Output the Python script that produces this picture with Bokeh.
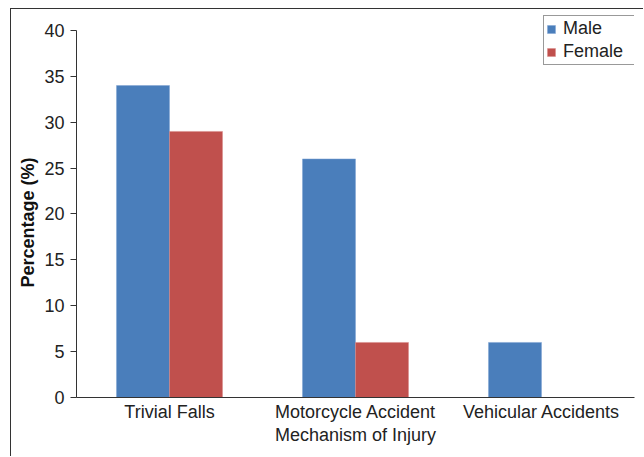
from bokeh.plotting import figure
from bokeh.models import FactorRange, ColumnDataSource, Legend, LegendItem, FixedTicker, Title
from bokeh.transform import dodge
from bokeh.embed import file_html
from bokeh.resources import INLINE

categories = ["Trivial Falls", "Motorcycle Accident", "Vehicular Accidents"]
male = [34, 26, 6]
female = [29, 6, 0]
y_ticks = [0, 5, 10, 15, 20, 25, 30, 35, 40]

FONT = "Liberation Sans"
FS = "18px"
src = ColumnDataSource(dict(cat=categories, male=male, female=female))

p = figure(x_range=FactorRange(*categories), y_range=(0, 42.07),
           width=633, height=448, output_backend="svg", toolbar_location=None,
           min_border_left=65, min_border_right=10, min_border_top=2, min_border_bottom=60)
p.x_range.range_padding = 0
p.x_range.factor_padding = 0

bw = 0.285
r1 = p.vbar(x=dodge("cat", -bw / 2, range=p.x_range), top="male", width=bw, source=src,
            fill_color="#4a7ebb", line_color="#7fa3d3", line_width=0.5)
r2 = p.vbar(x=dodge("cat", bw / 2, range=p.x_range), top="female", width=bw, source=src,
            fill_color="#c0504d", line_color="#d98a88", line_width=0.5)

p.outline_line_color = None
p.xgrid.visible = False
p.ygrid.visible = False
p.background_fill_color = "white"

p.yaxis.ticker = FixedTicker(ticks=y_ticks)
p.yaxis.bounds = (0, 40)
p.yaxis.minor_tick_line_color = None
p.yaxis.major_tick_out = 6
p.yaxis.major_tick_in = 0
p.yaxis.major_label_standoff = 6
p.yaxis.major_tick_line_color = "#333333"

p.xaxis.major_tick_line_color = None
p.xaxis.minor_tick_line_color = None
p.xaxis.major_tick_out = 0
p.xaxis.major_tick_in = 0
p.xaxis.major_label_standoff = 4
p.xaxis.axis_label = "Mechanism of Injury"
p.xaxis.axis_label_text_font = FONT
p.xaxis.axis_label_text_font_style = "normal"
p.xaxis.axis_label_text_font_size = FS
p.xaxis.axis_label_standoff = 0
p.xaxis.axis_label_text_color = "#222222"

for ax in (p.xaxis, p.yaxis):
    ax.major_label_text_font = FONT
    ax.major_label_text_font_size = FS
    ax.major_label_text_color = "#222222"
    ax.axis_line_color = "#333333"

ylab = Title(text="Percentage (%)", align="left", offset=110,
             text_font=FONT, text_font_size=FS, text_font_style="bold",
             text_color="#111111", standoff=8)
p.add_layout(ylab, "left")

legend = Legend(items=[LegendItem(label="Male", renderers=[r1]),
                       LegendItem(label="Female", renderers=[r2])],
                location=(467, 332))
legend.label_text_font = FONT
legend.label_text_font_size = FS
legend.label_text_color = "#222222"
legend.border_line_color = "#333333"
legend.glyph_width = 10
legend.glyph_height = 10
legend.label_standoff = 7
legend.label_width = 70
legend.padding = 2
legend.spacing = 2
legend.margin = 0
legend.label_height = 19
p.add_layout(legend)

p.styles = {"margin-left": "10px", "margin-top": "8px",
            "border-left": "1px solid #333333", "border-top": "1px solid #333333"}

open("out.html", "w").write(file_html(p, INLINE))
